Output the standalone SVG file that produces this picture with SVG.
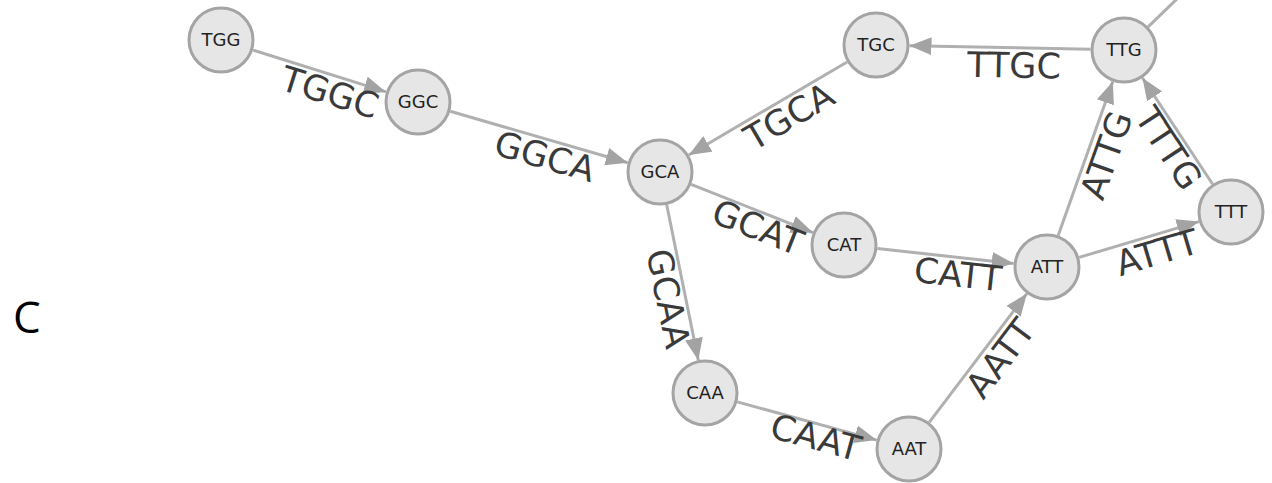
<svg xmlns="http://www.w3.org/2000/svg" width="1272" height="483" viewBox="0 0 1272 483">
  <defs>
    <marker id="arrow" markerUnits="userSpaceOnUse" markerWidth="24" markerHeight="18" refX="22" refY="9" orient="auto">
      <path d="M0,0 L22,9 L0,18 z" fill="#a3a3a3"/>
    </marker>
    <style>
      .edge { stroke: #b0b0b0; stroke-width: 3; fill: none; }
      .arrowed { marker-end: url(#arrow); }
      .node circle { fill: #e6e6e6; stroke: #a4a4a4; stroke-width: 3; }
      .node text { font-family: "DejaVu Sans", Verdana, sans-serif; font-size: 18px; fill: #222; text-anchor: middle; }
      .elabel { font-family: "DejaVu Sans", Verdana, sans-serif; font-size: 35px; fill: #3a3a3a; text-anchor: middle; }
      .panel { font-family: "Open Sans", "Liberation Sans", sans-serif; font-size: 44px; font-weight: 500; fill: #000; }
    </style>
  </defs>

  <rect width="1272" height="483" fill="#ffffff"/>

  <!-- panel letter -->
  <text class="panel" x="13" y="333">C</text>

  <!-- connectors -->
  <g id="edges">
    <line class="edge arrowed" x1="253.0" y1="50.1" x2="386.0" y2="91.9"/>
    <line class="edge arrowed" x1="450.2" y1="111.3" x2="627.8" y2="162.7"/>
    <line class="edge arrowed" x1="847.1" y1="62.0" x2="688.9" y2="155.0"/>
    <line class="edge arrowed" x1="1090.5" y1="49.3" x2="909.5" y2="45.7"/>
    <line class="edge arrowed" x1="691.1" y1="184.4" x2="812.9" y2="232.6"/>
    <line class="edge arrowed" x1="666.7" y1="204.8" x2="698.3" y2="360.2"/>
    <line class="edge arrowed" x1="877.3" y1="248.6" x2="1013.7" y2="263.4"/>
    <line class="edge arrowed" x1="737.3" y1="401.9" x2="876.7" y2="440.1"/>
    <line class="edge arrowed" x1="929.2" y1="422.3" x2="1026.8" y2="293.7"/>
    <line class="edge arrowed" x1="1058.2" y1="235.4" x2="1112.8" y2="81.6"/>
    <line class="edge arrowed" x1="1212.5" y1="184.0" x2="1142.5" y2="78.0"/>
    <line class="edge arrowed" x1="1079.1" y1="257.4" x2="1198.9" y2="221.6"/>
    <line class="edge" x1="1148.1" y1="26.8" x2="1180" y2="-4"/>

    <!-- edge labels -->
    <text class="elabel" dy=".36em" transform="translate(330,92) rotate(17.5)">TGGC</text>
    <text class="elabel" dy=".36em" transform="translate(545,156) rotate(16.1)">GGCA</text>
    <text class="elabel" dy=".36em" transform="translate(789,116) rotate(-30.4)">TGCA</text>
    <text class="elabel" dy=".36em" transform="translate(1014,65) rotate(1.2)">TTGC</text>
    <text class="elabel" dy=".36em" transform="translate(758,227) rotate(21.6)">GCAT</text>
    <text class="elabel" dy=".36em" transform="translate(668.5,298.5) rotate(78.5)">GCAA</text>
    <text class="elabel" dy=".36em" transform="translate(958,274) rotate(6.2)">CATT</text>
    <text class="elabel" dy=".36em" transform="translate(816,437) rotate(15.4)">CAAT</text>
    <text class="elabel" dy=".36em" transform="translate(1000,358) rotate(-52.8)">AATT</text>
    <text class="elabel" dy=".36em" transform="translate(1106,155) rotate(-70.5)">ATTG</text>
    <text class="elabel" dy=".36em" transform="translate(1169,148) rotate(56.6)">TTTG</text>
    <text class="elabel" dy=".36em" transform="translate(1157,252) rotate(-16.7)">ATTT</text>
  </g>

  <!-- nodes -->
  <g id="TGG" class="node"><circle cx="221" cy="40" r="32"/><text x="221" y="40" dy=".36em">TGG</text></g>
  <g id="GGC" class="node"><circle cx="418" cy="102" r="32"/><text x="418" y="102" dy=".36em">GGC</text></g>
  <g id="GCA" class="node"><circle cx="660" cy="172" r="32"/><text x="660" y="172" dy=".36em">GCA</text></g>
  <g id="TGC" class="node"><circle cx="876" cy="45" r="32"/><text x="876" y="45" dy=".36em">TGC</text></g>
  <g id="TTG" class="node"><circle cx="1124" cy="50" r="32"/><text x="1124" y="50" dy=".36em">TTG</text></g>
  <g id="TTT" class="node"><circle cx="1231" cy="212" r="32"/><text x="1231" y="212" dy=".36em">TTT</text></g>
  <g id="ATT" class="node"><circle cx="1047" cy="267" r="32"/><text x="1047" y="267" dy=".36em">ATT</text></g>
  <g id="CAT" class="node"><circle cx="844" cy="245" r="32"/><text x="844" y="245" dy=".36em">CAT</text></g>
  <g id="CAA" class="node"><circle cx="705" cy="393" r="32"/><text x="705" y="393" dy=".36em">CAA</text></g>
  <g id="AAT" class="node"><circle cx="909" cy="449" r="32"/><text x="909" y="449" dy=".36em">AAT</text></g>
</svg>
